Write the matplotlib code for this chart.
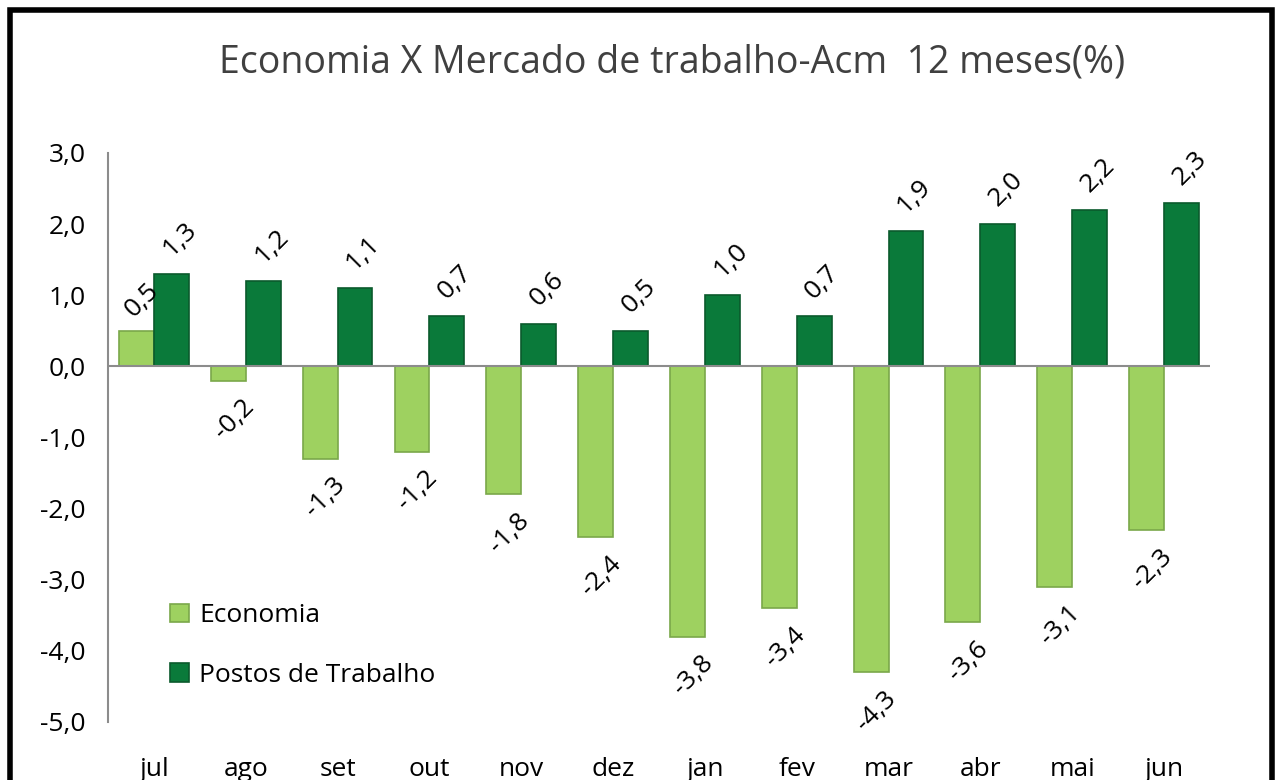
import numpy as np
import matplotlib.pyplot as plt
from matplotlib.patches import Rectangle

# Data
meses = ["jul", "ago", "set", "out", "nov", "dez", "jan", "fev", "mar", "abr", "mai", "jun"]
economia = [0.5, -0.2, -1.3, -1.2, -1.8, -2.4, -3.8, -3.4, -4.3, -3.6, -3.1, -2.3]
postos = [1.3, 1.2, 1.1, 0.7, 0.6, 0.5, 1.0, 0.7, 1.9, 2.0, 2.2, 2.3]

light_green = "#9ed160"
dark_green = "#0a7a3a"

plt.rcParams['font.family'] = ['Open Sans', 'DejaVu Sans']

fig = plt.figure()
fig.set_size_inches(12.77, 7.8)
fig.set_facecolor("white")

# Outer chart border
fig.patches.append(Rectangle((0.008, -0.05), 0.988, 1.037, transform=fig.transFigure,
                             fill=False, edgecolor="black", linewidth=4))

ax = fig.add_axes([0.0846, 0.0744, 0.8629, 0.7296])

x = np.arange(len(meses))
w = 0.38
ax.bar(x - w / 2, economia, w, color=light_green, edgecolor="#7aa84a", linewidth=1.2,
       label="Economia", zorder=3)
ax.bar(x + w / 2, postos, w, color=dark_green, edgecolor="#0b5a2c", linewidth=1.2,
       label="Postos de Trabalho", zorder=3)

# Data labels
for i, v in enumerate(economia):
    off = 22 if v >= 0 else -28
    ax.annotate(f"{v:.1f}".replace(".", ","), (x[i] - w / 2, v), xytext=(4, off),
                textcoords="offset points", ha="center", va="center",
                rotation=45, fontsize=19)
for i, v in enumerate(postos):
    ax.annotate(f"{v:.1f}".replace(".", ","), (x[i] + w / 2, v), xytext=(6, 25),
                textcoords="offset points", ha="center", va="center",
                rotation=45, fontsize=19)

ax.axhline(0, color="#8c8c8c", linewidth=1.5, zorder=4)

ax.set_xlim(-0.5, len(meses) - 0.5)
ax.set_ylim(-5.0, 3.0)
ax.set_yticks(np.arange(-5, 4, 1))
ax.set_yticklabels([f"{t:.1f}".replace(".", ",") for t in np.arange(-5, 4, 1)], fontsize=19)
ax.set_xticks(x)
ax.set_xticklabels(meses, fontsize=19)
ax.tick_params(axis="x", length=0, pad=25)
ax.tick_params(axis="y", length=0, pad=16)

for s in ["top", "right", "bottom"]:
    ax.spines[s].set_visible(False)
ax.spines["left"].set_color("#8c8c8c")
ax.spines["left"].set_linewidth(1.5)

ax.legend(loc="upper left", bbox_to_anchor=(0.035, 0.25), frameon=False, fontsize=19,
          handlelength=0.7, handleheight=0.7, handletextpad=0.4, labelspacing=1.3)

fig.text(0.526, 0.92, "Economia X Mercado de trabalho-Acm  12 meses(%)", ha="center",
         va="center", fontsize=27, color="#404040")

fig.savefig("out.png", dpi=100, facecolor=fig.get_facecolor())
